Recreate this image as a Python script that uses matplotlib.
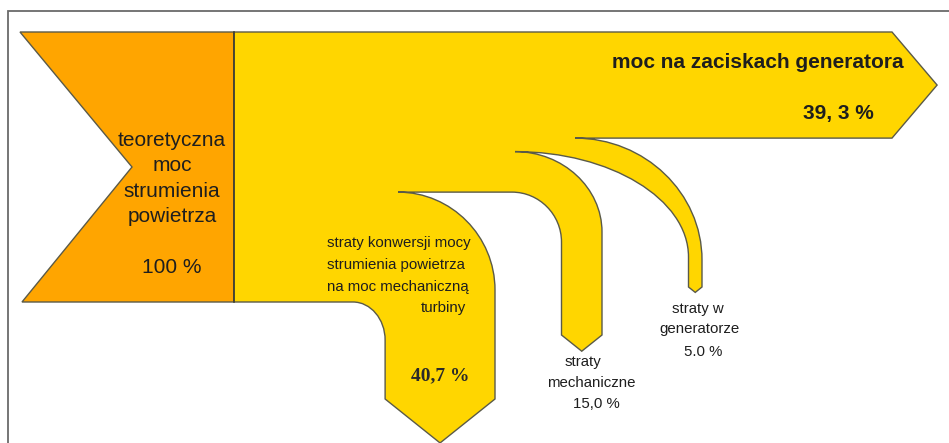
import matplotlib
matplotlib.use("Agg")
import matplotlib.pyplot as plt
from matplotlib.path import Path
from matplotlib.patches import PathPatch
from matplotlib import font_manager as fm

# ---- data -------------------------------------------------------------
source_lines = ["teoretyczna", "moc", "strumienia", "powietrza"]
source_value = 100.0
source_value_text = "100 %"

# flows leaving the turbine, stacked from the top of the band downwards
flow_names = ["moc na zaciskach generatora", "straty w generatorze",
              "straty mechaniczne", "straty konwersji"]
flow_values = [39.3, 5.0, 15.0, 40.7]
flow_value_texts = ["39, 3 %", "5.0 %", "15,0 %", "40,7 %"]

conv_lines = ["straty konwersji mocy", "strumienia powietrza",
              "na moc mechaniczną"]
conv_last = "turbiny"
mech_lines = ["straty", "mechaniczne"]
gen_lines = ["straty w", "generatorze"]

# ---- styling ----------------------------------------------------------
ORANGE = "#FFA500"
YELLOW = "#FFD600"
EDGE = "#5a5a48"
TXT = "#1e1e1e"


def has_font(name):
    try:
        fm.findfont(fm.FontProperties(family=name), fallback_to_default=False)
        return True
    except Exception:
        return False


NARROW = "Liberation Sans Narrow" if has_font("Liberation Sans Narrow") else "Liberation Sans"
NARROW_SIZE = 13 if NARROW == "Liberation Sans Narrow" else 10.8
SANS = "Liberation Sans"
SERIF = "Liberation Serif"

fig = plt.figure(figsize=(9.49, 4.43), dpi=100)
ax = fig.add_axes([0, 0, 1, 1])
ax.set_xlim(0, 949)
ax.set_ylim(443, 0)
ax.axis("off")

# frame lines
ax.plot([8.5, 8.5, 949], [443, 10.5, 10.5], color="#6a6a6a", lw=1.3,
        solid_joinstyle="miter")

# ---- geometry ----------------------------------------------------------
scale = 2.7          # pixels per percent
top = 32.0
x_left = 20.0
x_split = 234.0
notch_x = 132.0
src_h = source_value * scale
bottom = top + src_h

# source (orange) with notched tail
src = [(x_left, top), (x_split, top), (x_split, bottom), (x_left + 2, bottom),
       (notch_x, top + src_h / 2), (x_left, top)]
ax.add_patch(PathPatch(Path(src, [Path.MOVETO] + [Path.LINETO] * 4 + [Path.CLOSEPOLY]),
                       facecolor=ORANGE, edgecolor=EDGE, lw=1.0, zorder=2))

widths = [v * scale for v in flow_values]
y_edges = [top]
for w in widths:
    y_edges.append(y_edges[-1] + w)

K = 0.55

# per-branch turn layout: (outer start x, outer turn y, inner start x,
#                          inner flat-until x, inner turn y, right x, straight-end y)
branch_layout = {
    1: (575.0, 260.0, 515.0, 515.0, 257.0, 702.0, 287.0),
    2: (515.0, 232.0, 398.0, 512.0, 242.0, 602.0, 335.0),
    3: (398.0, 290.0, 353.0, 353.0, 340.0, 495.0, 399.0),
}

verts, codes = [], []


def move(p):
    verts.append(p); codes.append(Path.MOVETO)


def line(p):
    verts.append(p); codes.append(Path.LINETO)


def curve(c1, c2, p):
    verts.extend([c1, c2, p]); codes.extend([Path.CURVE4] * 3)


# main output arrow
out_end = 892.0
out_w = widths[0]
move((x_split, top))
line((out_end, top))
line((out_end + 0.85 * out_w / 2, top + out_w / 2))
line((out_end, y_edges[1]))

for i in (1, 2, 3):
    ox, oy, ix, fx, iy, rx, sy = branch_layout[i]
    w = widths[i]
    y0 = y_edges[i]
    y1 = y_edges[i + 1]
    lx = rx - w
    depth = 0.8 * w / 2
    # outer edge: along the band, turning downward
    line((ox, y0))
    curve((ox + K * (rx - ox), y0), (rx, oy - K * (oy - y0)), (rx, oy))
    line((rx, sy))
    line((rx - w / 2, sy + depth))
    line((lx, sy))
    line((lx, iy))
    # inner edge: back up and round the corner to the next branch
    curve((lx, iy - K * (iy - y1)), (fx + K * (lx - fx), y1), (fx, y1))
    if fx != ix:
        line((ix, y1))
    if i == 3:
        line((x_split, y1))

verts.append((x_split, top)); codes.append(Path.CLOSEPOLY)
ax.add_patch(PathPatch(Path(verts, codes), facecolor=YELLOW, edgecolor=EDGE,
                       lw=1.0, joinstyle="miter", zorder=2))
ax.plot([x_split, x_split], [top, bottom], color="#3c3c30", lw=1.1, zorder=3)

# ---- labels -------------------------------------------------------------
for j, s in enumerate(source_lines):
    ax.text(172, 146 + j * 25.3, s, ha="center", va="baseline", fontsize=15,
            family=SANS, color=TXT, zorder=4)
ax.text(172, 273, source_value_text, ha="center", va="baseline", fontsize=15,
        family=SANS, color=TXT, zorder=4)

ax.text(758, 68, flow_names[0], ha="center", va="baseline", fontsize=15,
        family=SANS, weight="bold", color=TXT, zorder=4)
ax.text(838, 119, flow_value_texts[0], ha="center", va="baseline", fontsize=15,
        family=SANS, weight="bold", color=TXT, zorder=4)

for j, s in enumerate(conv_lines):
    ax.text(327, 247 + j * 22, s, ha="left", va="baseline", fontsize=NARROW_SIZE,
            family=NARROW, color=TXT, zorder=4)
ax.text(466, 312, conv_last, ha="right", va="baseline", fontsize=NARROW_SIZE,
        family=NARROW, color=TXT, zorder=4)
ax.text(440, 380, flow_value_texts[3], ha="center", va="baseline", fontsize=14,
        family=SERIF, weight="bold", color="#2a2a2a", zorder=4)

mech_x = [583, 591, 596]
for j, s in enumerate(mech_lines + [flow_value_texts[2]]):
    ax.text(mech_x[j], 366 + j * 21, s, ha="center", va="baseline",
            fontsize=NARROW_SIZE, family=NARROW, color=TXT, zorder=4)

gen_x = [698, 700, 703]
gen_y = [313, 333, 356]
for j, s in enumerate(gen_lines + [flow_value_texts[1]]):
    ax.text(gen_x[j], gen_y[j], s, ha="center", va="baseline",
            fontsize=NARROW_SIZE, family=NARROW, color=TXT, zorder=4)

fig.savefig("out.png", dpi=100, facecolor="white")
